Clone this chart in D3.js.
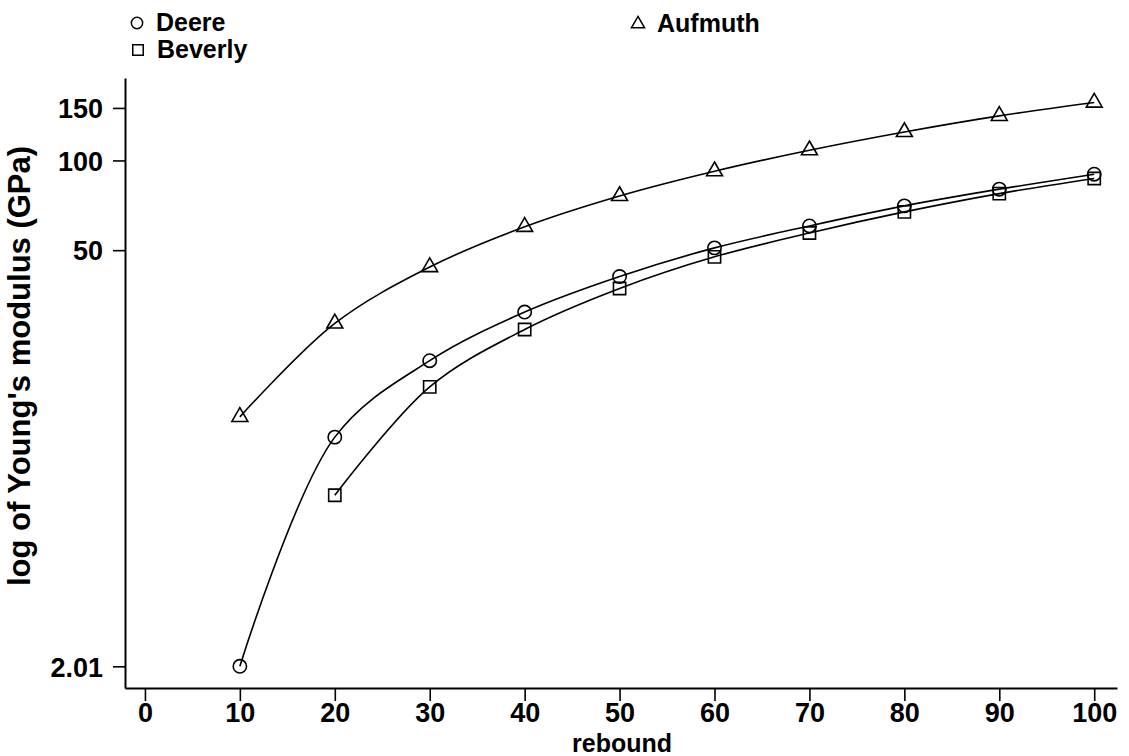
<!DOCTYPE html>
<html>
<head>
<meta charset="utf-8">
<script src="https://cdn.jsdelivr.net/npm/d3@7"></script>
<style>
  html, body { margin: 0; padding: 0; background: #fff; }
  svg { display: block; }
  text { font-family: "Liberation Sans", Arial, Helvetica, sans-serif; font-weight: bold; fill: #000; }
</style>
</head>
<body>
<svg id="chart" width="1129" height="756"></svg>
<script>
// Rebound number vs Young's modulus (GPa), three empirical relations
const rebound = [10, 20, 30, 40, 50, 60, 70, 80, 90, 100];
const deere   = [2.01, 11.8, 21.3, 31.0, 40.8, 50.9, 60.3, 70.4, 80.1, 89.9];
const beverly = [null, 7.53, 17.4, 27.1, 37.2, 47.5, 57.1, 67.2, 77.4, 87.0];
const aufmuth = [13.8, 28.4, 43.9, 59.9, 76.0, 92.0, 108.2, 124.6, 141.1, 156.4];

const seriesNames = ["Deere", "Beverly", "Aufmuth"];
const xTicks = [0, 10, 20, 30, 40, 50, 60, 70, 80, 90, 100];
const yTicks = [2.01, 50, 100, 150];
const yTickLabels = ["2.01", "50", "100", "150"];

const svg = d3.select("#chart");

const x = d3.scaleLinear().domain([-2.1, 102.4]).range([125, 1117]);
const y = d3.scaleLog().domain([1.7, 189]).range([688, 78]);

// axes
const xAxis = d3.axisBottom(x).tickValues(xTicks).tickSize(13).tickSizeOuter(0).tickPadding(2);
const yAxis = d3.axisLeft(y).tickValues(yTicks)
  .tickFormat((d, i) => yTickLabels[i]).tickSize(12).tickSizeOuter(0).tickPadding(10);

const gx = svg.append("g").attr("transform", "translate(0,688)").call(xAxis);
const gy = svg.append("g").attr("transform", "translate(125,0)").call(yAxis);

[gx, gy].forEach(g => {
  g.select(".domain").attr("stroke", "#000").attr("stroke-width", 2);
  g.selectAll(".tick line").attr("stroke", "#000").attr("stroke-width", 1.6);
  g.selectAll(".tick text").attr("font-size", 27).attr("font-family", null).attr("fill", "#000");
});
gx.selectAll(".tick text").attr("dy", "0.71em");
gy.selectAll(".tick text").attr("dy", "0.36em");

// axis titles
svg.append("text")
  .attr("x", 622).attr("y", 752)
  .attr("text-anchor", "middle").attr("font-size", 25)
  .text("rebound");

svg.append("text")
  .attr("transform", "translate(30,366) rotate(-90)")
  .attr("text-anchor", "middle").attr("font-size", 31)
  .text("log of Young's modulus (GPa)");

// series lines
const line = d3.line()
  .defined(d => d.v != null)
  .x(d => x(d.r))
  .y(d => y(d.v))
  .curve(d3.curveCatmullRom.alpha(0.5));

const toPts = vals => rebound.map((r, i) => ({ r, v: vals[i] })).filter(d => d.v != null);
const series = [
  { name: seriesNames[0], pts: toPts(deere), shape: "circle" },
  { name: seriesNames[1], pts: toPts(beverly), shape: "square" },
  { name: seriesNames[2], pts: toPts(aufmuth), shape: "triangle" }
];

const symbolSize = { circle: 140, square: 150, triangle: 110 };
const symbolType = { circle: d3.symbolCircle, square: d3.symbolSquare, triangle: d3.symbolTriangle };

series.forEach(s => {
  svg.append("path")
    .datum(s.pts)
    .attr("fill", "none").attr("stroke", "#000").attr("stroke-width", 1.6)
    .attr("d", line);

  const sym = d3.symbol().type(symbolType[s.shape]).size(symbolSize[s.shape]);
  svg.append("g").selectAll("path")
    .data(s.pts).join("path")
    .attr("transform", d => `translate(${x(d.r)},${y(d.v)})`)
    .attr("d", sym)
    .attr("fill", "none").attr("stroke", "#000").attr("stroke-width", 1.6);
});

// legend
const legend = [
  { name: seriesNames[0], shape: "circle", lx: 137, ly: 23 },
  { name: seriesNames[1], shape: "square", lx: 138, ly: 50 },
  { name: seriesNames[2], shape: "triangle", lx: 638, ly: 24 }
];
const legendSize = { circle: 100, square: 110, triangle: 75 };
legend.forEach(l => {
  svg.append("path")
    .attr("transform", `translate(${l.lx},${l.ly})`)
    .attr("d", d3.symbol().type(symbolType[l.shape]).size(legendSize[l.shape]))
    .attr("fill", "none").attr("stroke", "#000").attr("stroke-width", 1.5);
  svg.append("text")
    .attr("x", l.lx + 19).attr("y", l.ly + 8)
    .attr("font-size", 25)
    .text(l.name);
});
</script>
</body>
</html>
